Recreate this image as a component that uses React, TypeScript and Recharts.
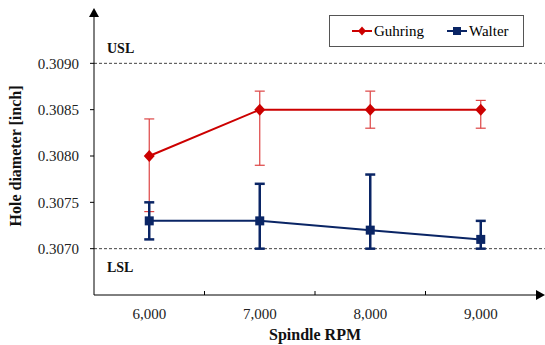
import { LineChart, Line, XAxis, YAxis, ErrorBar, ReferenceLine, ReferenceDot, Legend } from "recharts"

const rpm = [6000, 7000, 8000, 9000]
const guhring = [0.308, 0.3085, 0.3085, 0.3085]
const guhringErrLow = [0.0006, 0.0006, 0.0002, 0.0002]
const guhringErrHigh = [0.0004, 0.0002, 0.0002, 0.0001]
const walter = [0.3073, 0.3073, 0.3072, 0.3071]
const walterErrLow = [0.0002, 0.0003, 0.0002, 0.0001]
const walterErrHigh = [0.0002, 0.0004, 0.0006, 0.0002]
const yTicks = [0.307, 0.3075, 0.308, 0.3085, 0.309]
const usl = 0.309
const lsl = 0.307

const RED = "#cc0000"
const NAVY = "#0a2565"
const FONT = "'Liberation Serif', 'Times New Roman', serif"

const data = rpm.map((r, i) => ({
  rpm: r,
  guhring: guhring[i],
  gErr: [guhringErrLow[i], guhringErrHigh[i]],
  walter: walter[i],
  wErr: [walterErrLow[i], walterErrHigh[i]],
}))

// boundaries between categories, where the small inside ticks sit
const bounds = rpm.slice(1).map((r, i) => (r + rpm[i]) / 2)
const xMin = rpm[0] - 500
const xMax = rpm[rpm.length - 1] + 500
const yMin = 0.3065
const yMax = 0.3095

const Diamond = (props: any) => {
  const { cx, cy, index } = props
  return <path key={`d${index}`} d={`M${cx},${cy - 6} L${cx + 5.5},${cy} L${cx},${cy + 6} L${cx - 5.5},${cy} Z`} fill={RED} />
}

const Square = (props: any) => {
  const { cx, cy, index } = props
  return <rect key={`s${index}`} x={cx - 4.5} y={cy - 4.5} width={9} height={9} fill={NAVY} />
}

const LegendBox = () => (
  <div
    style={{
      width: 193,
      height: 30,
      border: "1px solid #555",
      background: "#fff",
      display: "flex",
      alignItems: "center",
      fontFamily: FONT,
      fontSize: 15,
      color: "#000",
    }}
  >
    <svg width={22} height={12} style={{ marginLeft: 21 }}>
      <line x1={1} y1={6} x2={21} y2={6} stroke={RED} strokeWidth={2} />
      <path d="M11,1.5 L15,6 L11,10.5 L7,6 Z" fill={RED} />
    </svg>
    <span style={{ marginLeft: 1 }}>Guhring</span>
    <svg width={22} height={12} style={{ marginLeft: 22 }}>
      <line x1={1} y1={6} x2={21} y2={6} stroke={NAVY} strokeWidth={2} />
      <rect x={7} y={2} width={8} height={8} fill={NAVY} />
    </svg>
    <span style={{ marginLeft: 1 }}>Walter</span>
  </div>
)

export default function App() {
  return (
    <div style={{ position: "absolute", left: 0, top: 0 }}>
      <LineChart width={545} height={345} data={data} margin={{ top: 17, right: 9, bottom: 0, left: 0 }}>
        <XAxis
          dataKey="rpm"
          type="number"
          domain={[xMin, xMax]}
          ticks={rpm}
          allowDataOverflow
          height={50}
          tickSize={0}
          tickMargin={13}
          tickLine={false}
          axisLine={{ stroke: "#000" }}
          tickFormatter={(v: number) => v.toLocaleString("en-US")}
          tick={{ fill: "#222", fontSize: 15, fontFamily: FONT }}
          label={{ value: "Spindle RPM", position: "insideBottom", offset: 5, style: { fontFamily: FONT, fontSize: 16, fontWeight: "bold", fill: "#111" } }}
        />
        <YAxis
          type="number"
          domain={[yMin, yMax]}
          ticks={yTicks}
          allowDataOverflow
          width={94}
          tickSize={4}
          tickMargin={11}
          axisLine={{ stroke: "#000" }}
          tickLine={{ stroke: "#000" }}
          tickFormatter={(v: number) => v.toFixed(4)}
          tick={{ fill: "#222", fontSize: 15, fontFamily: FONT }}
          label={{ value: "Hole diameter [inch]", angle: -90, position: "insideLeft", offset: 15, style: { textAnchor: "middle", fontFamily: FONT, fontSize: 16, fontWeight: "bold", fill: "#111" } }}
        />
        <Legend layout="horizontal" verticalAlign="middle" align="center" content={<LegendBox />} wrapperStyle={{ position: "absolute", left: 329, top: 15, width: 195, height: 32 }} />

        <ReferenceLine
          segment={[{ x: xMin, y: usl }, { x: xMax + 80, y: usl }]}
          ifOverflow="visible"
          stroke="#444"
          strokeDasharray="3 2"
          label={(p: any) => (
            <text x={p.viewBox.x + 13} y={p.viewBox.y - 10} fontFamily={FONT} fontSize={14} fontWeight="bold" fill="#111">USL</text>
          )}
        />
        <ReferenceLine
          segment={[{ x: xMin, y: lsl }, { x: xMax + 80, y: lsl }]}
          ifOverflow="visible"
          stroke="#444"
          strokeDasharray="3 2"
          label={(p: any) => (
            <text x={p.viewBox.x + 13} y={p.viewBox.y + 23} fontFamily={FONT} fontSize={14} fontWeight="bold" fill="#111">LSL</text>
          )}
        />
        {bounds.map((b) => (
          <ReferenceDot
            key={b}
            x={b}
            y={yMin}
            ifOverflow="visible"
            shape={(p: any) => <line x1={p.cx} x2={p.cx} y1={p.cy} y2={p.cy - 4} stroke="#000" />}
          />
        ))}
        <ReferenceDot
          x={xMin}
          y={yMax}
          ifOverflow="visible"
          shape={(p: any) => <path d={`M${p.cx},${p.cy - 9} L${p.cx + 5},${p.cy} L${p.cx - 5},${p.cy} Z`} fill="#000" />}
        />
        <ReferenceDot
          x={xMax}
          y={yMin}
          ifOverflow="visible"
          shape={(p: any) => <path d={`M${p.cx + 9},${p.cy} L${p.cx},${p.cy - 5} L${p.cx},${p.cy + 5} Z`} fill="#000" />}
        />

        <Line dataKey="guhring" stroke={RED} strokeWidth={2} dot={Diamond} activeDot={false} isAnimationActive={false}>
          <ErrorBar dataKey="gErr" width={5} stroke="#dd4444" strokeWidth={1.2} isAnimationActive={false} />
        </Line>
        <Line dataKey="walter" stroke={NAVY} strokeWidth={2} dot={Square} activeDot={false} isAnimationActive={false}>
          <ErrorBar dataKey="wErr" width={5} stroke={NAVY} strokeWidth={2.5} isAnimationActive={false} />
        </Line>
      </LineChart>
    </div>
  )
}
